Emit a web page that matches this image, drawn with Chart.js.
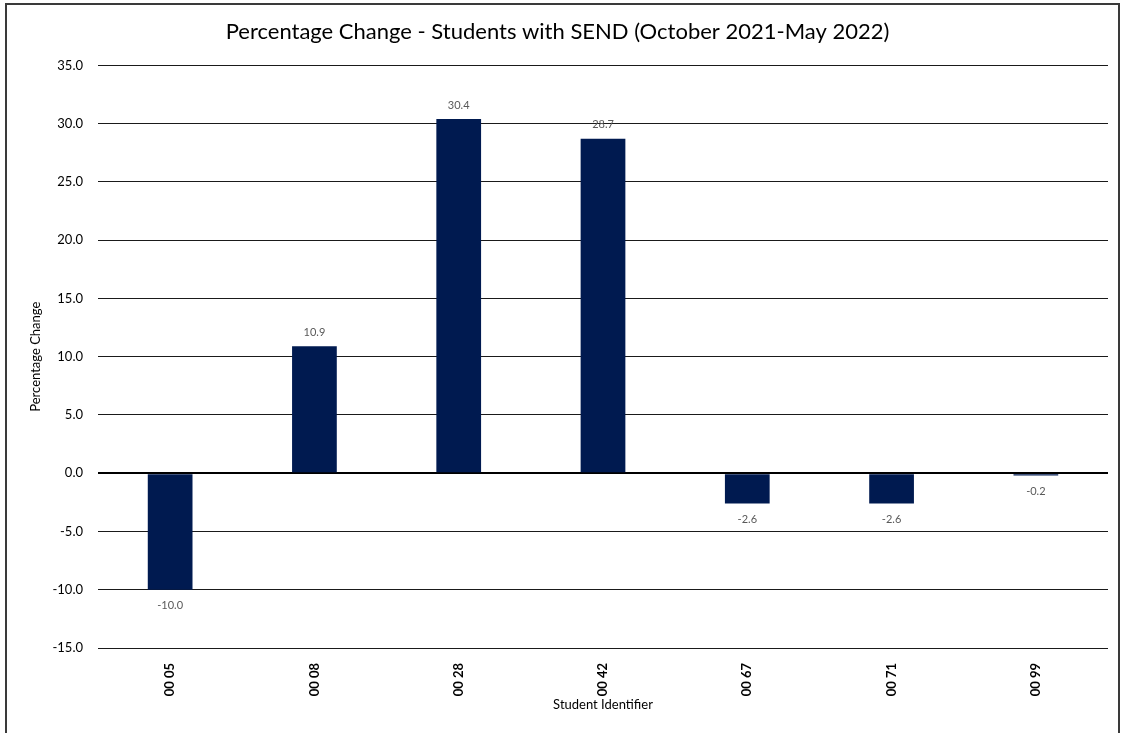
<!DOCTYPE html>
<html>
<head>
<meta charset="utf-8">
<script src="https://cdn.jsdelivr.net/npm/chart.js@4/dist/chart.umd.min.js"></script>
<style>
  body { margin: 0; background: #fff; }
  #box { position: absolute; left: 5px; top: 3px; width: 1111px; height: 740px; border: 2px solid #3a3a3a; border-bottom: none; }
  #grafico { display: block; }
</style>
</head>
<body>
<div id="box"><canvas id="grafico" width="1111" height="728"></canvas></div>
<script>
const alunos = ['00 05', '00 08', '00 28', '00 42', '00 67', '00 71', '00 99'];
const variacao = [-10.0, 10.9, 30.4, 28.7, -2.6, -2.6, -0.2];
const eixoMin = -15;
const eixoMax = 35;
const passo = 5;

const fonte = 'Lato, "Open Sans", sans-serif';

// rótulos de valor acima/abaixo das barras
const rotulos = {
  id: 'rotulos',
  afterDatasetsDraw(chart) {
    const ctx = chart.ctx;
    const meta = chart.getDatasetMeta(0);
    ctx.save();
    ctx.font = '11px ' + fonte;
    ctx.fillStyle = '#595959';
    ctx.textAlign = 'center';
    ctx.textBaseline = 'middle';
    meta.data.forEach((bar, i) => {
      const v = variacao[i];
      const y = v >= 0 ? bar.y - 14 : bar.y + 16;
      ctx.fillText(v.toFixed(1), bar.x, y);
    });
    ctx.restore();
  }
};

new Chart(document.getElementById('grafico'), {
  type: 'bar',
  data: {
    labels: alunos,
    datasets: [{
      data: variacao,
      backgroundColor: '#001a50',
      barPercentage: 0.31,
      categoryPercentage: 1
    }]
  },
  options: {
    responsive: false,
    animation: false,
    layout: { padding: { left: 0, right: 10, top: 0, bottom: 0 } },
    plugins: {
      legend: { display: false },
      tooltip: { enabled: false },
      title: {
        display: true,
        text: 'Percentage Change - Students with SEND (October 2021-May 2022)',
        color: '#000',
        font: { family: fonte, size: 22, weight: 'normal' },
        padding: { top: 14, bottom: 20 }
      }
    },
    scales: {
      x: {
        afterFit: (s) => { s.height = 85; },
        grid: { display: false },
        border: { display: false },
        ticks: {
          color: '#000',
          font: { family: fonte, size: 13, weight: 'bold' },
          minRotation: 90,
          maxRotation: 90,
          padding: 7
        },
        title: {
          display: true,
          text: 'Student Identifier',
          color: '#000',
          font: { family: fonte, size: 13 },
          padding: { top: 0, bottom: 20 }
        }
      },
      y: {
        min: eixoMin,
        max: eixoMax,
        afterFit: (s) => { s.width = 91; },
        border: { display: false },
        grid: {
          drawTicks: false,
          color: (c) => c.tick && c.tick.value === 0 ? '#000' : '#1a1a1a',
          lineWidth: (c) => c.tick && c.tick.value === 0 ? 2 : 1
        },
        ticks: {
          stepSize: passo,
          color: '#000',
          padding: 15,
          font: { family: fonte, size: 13 },
          callback: (v) => v.toFixed(1)
        },
        title: {
          display: true,
          text: 'Percentage Change',
          color: '#000',
          font: { family: fonte, size: 13 },
          padding: { top: 21, bottom: 0 }
        }
      }
    }
  },
  plugins: [rotulos]
});
</script>
</body>
</html>
